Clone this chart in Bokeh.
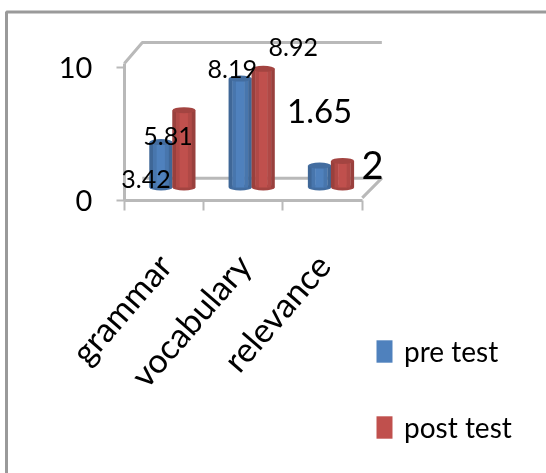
from bokeh.plotting import figure
from bokeh.models import (Range1d, FixedTicker, Legend, LegendItem, LinearAxis)
from bokeh.core.properties import value
from bokeh.embed import file_html
from bokeh.resources import INLINE

categories = ["grammar", "vocabulary", "relevance"]
pre_test = [3.42, 8.19, 1.65]
post_test = [5.81, 8.92, 2]
y_ticks = [0, 10]

FONT = "Lato"
GRID = "#b9b9b9"
PX_X = 79.3   # px per category
PX_Y = 13.3   # px per unit
X0, Y0 = 163.5, 200   # page position of category 0 / value 0
DX = 18 / PX_X
DY = 21 / PX_Y
BASE = 13 / PX_Y
SHIFT = 8.5 / PX_X
BAR_W = 23 / PX_X
W, H = 546, 473
OX, OY = 0, 0

p = figure(width=W, height=H, output_backend="svg", toolbar_location=None,
           x_axis_type=None, y_axis_type=None,
           x_range=Range1d((OX - X0) / PX_X, (OX + W - X0) / PX_X),
           y_range=Range1d((Y0 - OY - H) / PX_Y, (Y0 - OY) / PX_Y),
           min_border=0, background_fill_color="white", border_fill_color="white",
           outline_line_color=None, styles={"filter": "blur(0.5px)"})
p.grid.visible = False

xax = LinearAxis(ticker=FixedTicker(ticks=[0, 1, 2], minor_ticks=[-0.5, 0.5, 1.5, 2.5]),
                 major_label_overrides={i: c for i, c in enumerate(categories)},
                 major_label_orientation=0.855, major_label_text_font=FONT,
                 major_label_text_font_size="34px", major_label_text_color="black",
                 major_tick_line_color=None, minor_tick_out=10, minor_tick_in=0,
                 minor_tick_line_color=GRID, minor_tick_line_width=2,
                 axis_line_color=GRID, axis_line_width=3, bounds=(-0.5, 2.5),
                 major_label_standoff=48, fixed_location=0)
p.add_layout(xax, "below")
yax = LinearAxis(ticker=FixedTicker(ticks=y_ticks), major_label_text_font=FONT,
                 major_label_text_font_size="29px", major_label_text_color="black",
                 major_tick_out=8, major_tick_in=0, major_tick_line_color=GRID,
                 major_tick_line_width=2, minor_tick_line_color=None,
                 axis_line_color=GRID, axis_line_width=3, bounds=(0, 10.3),
                 major_label_standoff=24, fixed_location=-0.5)
p.add_layout(yax, "left")

x_end = 2.5 + DX + 0.02
wall = dict(line_color=GRID, line_width=3)
p.line([-0.5, -0.5 + DX, x_end], [10.3, 10.3 + DY, 10.3 + DY], **wall)
p.line([-0.5 + DX, x_end, 2.5], [DY + 0.1, DY + 0.1, 0.2], **wall)

# outer chart border
bx, by = (6 - X0) / PX_X, (Y0 - 11.5) / PX_Y
bx_end, by_end = (W - X0) / PX_X, (Y0 - H) / PX_Y
p.line([bx, bx, bx_end], [by_end, by, by], line_color="#9a9a9a", line_width=3)

strips = [(-0.42, 0.18, 0.8), (-0.26, 0.18, 0.92), (0, 0.38, 1.0), (0.26, 0.18, 0.92), (0.42, 0.16, 0.8)]


def shade(rgb, k):
    return "#%02x%02x%02x" % tuple(int(c * k) for c in rgb)


series = [("pre test", pre_test, (79, 129, 189), -0.5), ("post test", post_test, (192, 80, 77), 0.5)]
legend_items = []
for name, vals, rgb, side in series:
    xs = [i + SHIFT + side * BAR_W for i in range(len(vals))]
    tops = [v + BASE for v in vals]
    p.ellipse(xs, [BASE] * 3, width=BAR_W, height=0.45, fill_color=shade(rgb, 0.85), line_color=None)
    main = None
    for off, w, k in strips:
        r = p.vbar([x + off * BAR_W for x in xs], top=tops, bottom=BASE, width=w * BAR_W,
                   fill_color=shade(rgb, k), line_color=None)
        if k == 1.0:
            main = r
    p.ellipse(xs, tops, width=BAR_W, height=0.45, fill_color=shade(rgb, 0.85), line_color=None)
    legend_items.append(LegendItem(label=name, renderers=[main]))

label_text = ["3.42", "5.81", "8.19", "8.92", "1.65", "2"]
label_vals = [pre_test[0], post_test[0], pre_test[1], post_test[1], pre_test[2], post_test[2]]
label_cat = [0, 0, 1, 1, 2, 2]
label_side = [-0.5, 0.5, -0.5, 0.5, -0.5, 0.5]
label_dx = [-15, -16, -8, 30, 0, 30]
label_dy = [37, 26, -10, -22, -55, 4]
label_size = ["25px", "25px", "25px", "25px", "33px", "38px"]
p.text([c + SHIFT + s * BAR_W for c, s in zip(label_cat, label_side)],
       [v + BASE for v in label_vals], text=label_text, x_offset=label_dx, y_offset=label_dy,
       text_font=value(FONT), text_font_size=label_size, text_color="black",
       text_align="center", text_baseline="middle", level="overlay")

legend = Legend(items=legend_items, location=(374, 29), orientation="vertical",
                background_fill_alpha=0, border_line_color=None, margin=0, padding=10,
                glyph_width=20, glyph_height=28, label_text_font=FONT,
                label_text_font_size="28px", label_text_color="black", spacing=42,
                label_standoff=10)
p.add_layout(legend, "center")

open("out.html", "w").write(file_html(p, INLINE))
